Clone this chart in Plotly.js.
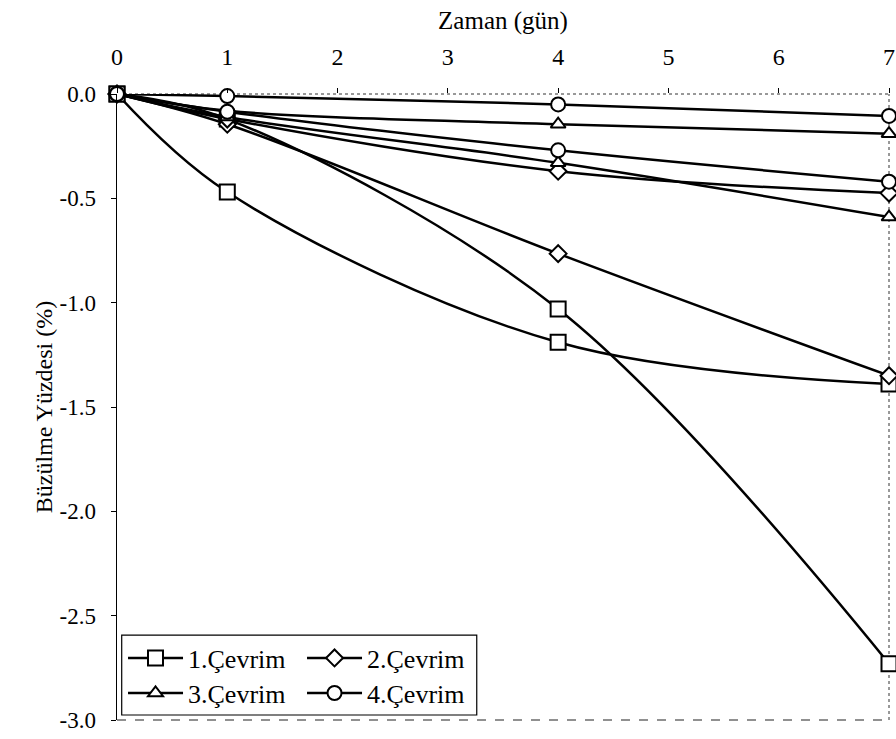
<!DOCTYPE html>
<html>
<head>
<meta charset="utf-8">
<script src="https://cdn.plot.ly/plotly-3.0.1.min.js"></script>
<style>html,body{margin:0;padding:0;background:#fff;}#chart{width:896px;height:739px;}</style>
</head>
<body>
<div id="chart"></div>
<script>
const days = [0, 1, 4, 7];
const xTicks = [0, 1, 2, 3, 4, 5, 6, 7];
const yTicks = [0, -0.5, -1.0, -1.5, -2.0, -2.5, -3.0];

const cevrim1a = [0, -0.12, -1.03, -2.73];
const cevrim1b = [0, -0.47, -1.19, -1.39];
const cevrim2a = [0, -0.145, -0.765, -1.35];
const cevrim2b = [0, -0.12, -0.37, -0.475];
const cevrim3a = [0, -0.08, -0.145, -0.19];
const cevrim3b = [0, -0.11, -0.33, -0.59];
const cevrim4a = [0, -0.01, -0.05, -0.105];
const cevrim4b = [0, -0.085, -0.27, -0.42];

const names = ['1.Çevrim', '2.Çevrim', '3.Çevrim', '4.Çevrim'];

const FONT = "Liberation Serif";

function tr(y, name, symbol, size, show, legend) {
  return {
    x: days, y: y, name: name, type: 'scatter', mode: 'lines+markers',
    line: {color: '#000', width: 2.5, shape: 'spline', smoothing: 1},
    marker: {symbol: symbol, size: size, color: '#fff', line: {color: '#000', width: 2}},
    showlegend: show, legend: legend, legendgroup: name, cliponaxis: false
  };
}

const data = [
  tr(cevrim1a, names[0], 'square', 15, true, 'legend'),
  tr(cevrim1b, names[0], 'square', 15, false, 'legend'),
  tr(cevrim2a, names[1], 'diamond', 13, true, 'legend'),
  tr(cevrim2b, names[1], 'diamond', 13, false, 'legend'),
  tr(cevrim3a, names[2], 'triangle-up', 13, true, 'legend2'),
  tr(cevrim3b, names[2], 'triangle-up', 13, false, 'legend2'),
  tr(cevrim4a, names[3], 'circle', 14, true, 'legend2'),
  tr(cevrim4b, names[3], 'circle', 14, false, 'legend2')
];

const legendCommon = {
  orientation: 'h', xref: 'paper', yref: 'paper', xanchor: 'left', yanchor: 'middle',
  bgcolor: 'rgba(0,0,0,0)', borderwidth: 0, itemwidth: 55,
  entrywidth: 109, entrywidthmode: 'pixels',
  font: {family: FONT, size: 26, color: '#000'}, itemclick: false
};

const layout = {
  width: 896, height: 739,
  margin: {l: 117, r: 7, t: 94, b: 19, autoexpand: false},
  paper_bgcolor: '#fff', plot_bgcolor: '#fff',
  font: {family: FONT, color: '#000', size: 23},
  xaxis: {
    side: 'top', range: [0, 7], tickvals: xTicks, ticktext: xTicks.map(String),
    showgrid: false, zeroline: false, showline: false,
    ticks: 'outside', ticklen: 5, tickwidth: 1, tickcolor: '#000',
    ticklabelstandoff: 13,
    tickfont: {family: FONT, size: 24, color: '#000'},
    title: {text: 'Zaman (gün)', font: {family: FONT, size: 25, color: '#000'}, standoff: 7}
  },
  yaxis: {
    range: [-3, 0], tickvals: yTicks, ticktext: yTicks.map(v => v.toFixed(1)),
    showgrid: false, zeroline: false, showline: true, linecolor: '#000', linewidth: 1.5,
    ticks: 'outside', ticklen: 5, tickwidth: 1, tickcolor: '#000',
    ticklabelstandoff: 10,
    tickfont: {family: FONT, size: 23, color: '#000'},
    title: {text: 'Büzülme Yüzdesi (%)', font: {family: FONT, size: 24, color: '#000'}, standoff: 0}
  },
  legend: Object.assign({}, legendCommon, {x: 0.0078, y: 0.099}),
  legend2: Object.assign({}, legendCommon, {x: 0.0078, y: 0.043}),
  shapes: [
    {type: 'line', xref: 'paper', yref: 'paper', x0: 0, x1: 1, y0: 1, y1: 1, layer: 'below',
     line: {color: '#333', width: 1, dash: 'dot'}},
    {type: 'line', xref: 'paper', yref: 'paper', x0: 1, x1: 1, y0: 0, y1: 1, layer: 'below',
     line: {color: '#333', width: 1, dash: 'dot'}},
    {type: 'line', xref: 'paper', yref: 'paper', x0: 0, x1: 1, y0: 0, y1: 0, layer: 'below',
     line: {color: '#222', width: 1.2, dash: 'dash'}},
    {type: 'rect', xref: 'paper', yref: 'paper', x0: 0.0061, x1: 0.466, y0: 0.008, y1: 0.1356,
     line: {color: '#000', width: 1.2}, fillcolor: 'rgba(0,0,0,0)', layer: 'above'}
  ]
};

Plotly.newPlot('chart', data, layout, {displayModeBar: false, staticPlot: true});
</script>
</body>
</html>
